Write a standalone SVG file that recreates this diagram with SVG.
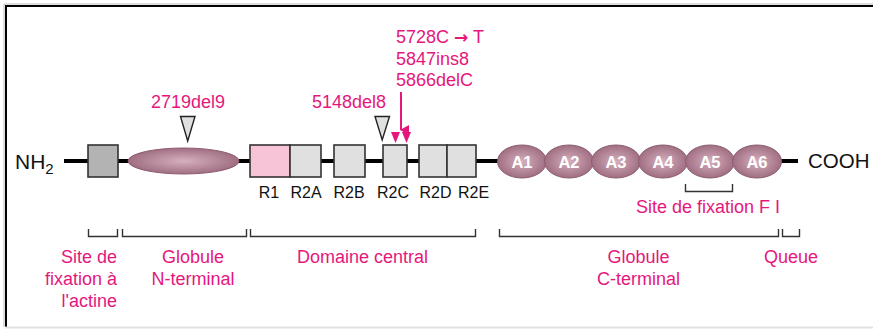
<svg xmlns="http://www.w3.org/2000/svg" width="873" height="329" viewBox="0 0 873 329">
  <defs>
    <radialGradient id="globe" cx="50%" cy="50%" r="50%">
      <stop offset="0" stop-color="#d6b0bf"/>
      <stop offset="1" stop-color="#a06e82"/>
    </radialGradient>
    <style>
      text { font-family: "Liberation Sans", Arial, sans-serif; }
      .pink { fill: #e5177d; font-size: 18px; }
      .dark { fill: #111; }
      .lbl { fill: #111; font-size: 16px; text-anchor: middle; }
      .box { stroke: #333; stroke-width: 1.6; }
      .grey { fill: #e0e0e0; }
      .glob { fill: url(#globe); stroke: #8c5d70; stroke-width: 1; }
      .alab { fill: #fff; font-size: 16.5px; font-weight: bold; text-anchor: middle; }
      .brk { fill: none; stroke: #333; stroke-width: 1.4; }
      .tri { fill: #e0e0e0; stroke: #222; stroke-width: 1.4; stroke-linejoin: miter; }
      .mut { fill: #e5177d; }
    </style>
    <marker id="ah" markerWidth="10" markerHeight="10" refX="5" refY="8" orient="auto" markerUnits="userSpaceOnUse" viewBox="0 0 10 10">
      <path d="M0,0 L10,0 L5,9 Z" fill="#e5177d"/>
    </marker>
  </defs>

  <rect x="0" y="0" width="873" height="329" fill="#fff"/>
  <!-- frame -->
  <line x1="4" y1="4" x2="873" y2="4" stroke="#bbb" stroke-width="1"/>
  <line x1="4" y1="4" x2="4" y2="327" stroke="#bbb" stroke-width="1"/>
  <line x1="5" y1="6" x2="873" y2="6" stroke="#000" stroke-width="2"/>
  <line x1="6" y1="5" x2="6" y2="327" stroke="#000" stroke-width="2"/>
  <line x1="5" y1="327.5" x2="873" y2="327.5" stroke="#e2e2e2" stroke-width="2"/>

  <!-- backbone chain and mutation pointer -->
  <g id="connectors">
    <line x1="64" y1="161" x2="798" y2="161" stroke="#000" stroke-width="4"/>
    <line x1="401" y1="92" x2="401" y2="130" stroke="#e5177d" stroke-width="2" marker-end="url(#ah)"/>
  </g>

  <text x="15" y="169" class="dark" font-size="21">NH<tspan font-size="15" dy="5">2</tspan></text>
  <text x="808" y="168" class="dark" font-size="20.5">COOH</text>

  <g id="actin-site">
    <rect x="88" y="145" width="30" height="32" fill="#b3b3b3" class="box"/>
  </g>
  <g id="n-globule">
    <ellipse cx="183.5" cy="161" rx="55.5" ry="13" class="glob"/>
  </g>

  <g id="central-domain">
    <rect x="250" y="145" width="40" height="32" fill="#f7c3d6" class="box"/>
    <rect x="290" y="145" width="31" height="32" class="box grey"/>
    <rect x="334" y="145" width="31" height="32" class="box grey"/>
    <rect x="383" y="145" width="24" height="32" class="box grey"/>
    <rect x="419" y="145" width="28" height="32" class="box grey"/>
    <rect x="447" y="145" width="29" height="32" class="box grey"/>
    <text x="269" y="198" class="lbl">R1</text>
    <text x="306" y="198" class="lbl">R2A</text>
    <text x="349" y="198" class="lbl">R2B</text>
    <text x="393" y="198" class="lbl">R2C</text>
    <text x="435.5" y="198" class="lbl">R2D</text>
    <text x="473.5" y="198" class="lbl">R2E</text>
  </g>

  <g id="c-globule">
    <ellipse cx="522" cy="161.5" rx="24.5" ry="16.5" class="glob"/>
    <ellipse cx="569" cy="161.5" rx="24.5" ry="16.5" class="glob"/>
    <ellipse cx="616" cy="161.5" rx="24.5" ry="16.5" class="glob"/>
    <ellipse cx="663" cy="161.5" rx="24.5" ry="16.5" class="glob"/>
    <ellipse cx="710" cy="161.5" rx="24.5" ry="16.5" class="glob"/>
    <ellipse cx="757" cy="161.5" rx="24.5" ry="16.5" class="glob"/>
    <text x="522" y="167.5" class="alab">A1</text>
    <text x="569" y="167.5" class="alab">A2</text>
    <text x="616" y="167.5" class="alab">A3</text>
    <text x="663" y="167.5" class="alab">A4</text>
    <text x="710" y="167.5" class="alab">A5</text>
    <text x="757" y="167.5" class="alab">A6</text>
  </g>

  <!-- mutations -->
  <g id="mut-2719del9">
    <text x="188" y="108" class="pink" text-anchor="middle">2719del9</text>
    <path d="M180.5,116.5 L195,116.5 L187.7,141 Z" class="tri"/>
  </g>
  <g id="mut-5148del8">
    <text x="349" y="108" class="pink" text-anchor="middle">5148del8</text>
    <path d="M375,116.5 L389.5,116.5 L382.2,140 Z" class="tri"/>
  </g>
  <g id="mut-r2c">
    <text x="396" y="43" class="pink">5728C <tspan font-family="DejaVu Sans, sans-serif" font-size="17" font-weight="bold">&#x2192;</tspan> T</text>
    <text x="396" y="65" class="pink">5847ins8</text>
    <text x="396" y="86" class="pink">5866delC</text>
    <path d="M391,132 L400,132 L395.5,143 Z" class="mut"/>
    <path d="M402,132 L411,132 L406.5,143 Z" class="mut"/>
  </g>

  <g id="fi-site">
    <path d="M685.5,184 V191.5 H732.5 V184" class="brk"/>
    <text x="708" y="213" class="pink" text-anchor="middle">Site de fixation F I</text>
  </g>

  <!-- region brackets -->
  <g id="region-actine">
    <path d="M88.5,229 V236.5 H117.5 V229" class="brk"/>
    <text class="pink" text-anchor="end"><tspan x="117" y="263">Site de</tspan><tspan x="117" y="285">fixation à</tspan><tspan x="117" y="307">l'actine</tspan></text>
  </g>
  <g id="region-n-globule">
    <path d="M122.5,229 V236.5 H246.5 V229" class="brk"/>
    <text class="pink" text-anchor="middle"><tspan x="193" y="263">Globule</tspan><tspan x="193" y="285">N-terminal</tspan></text>
  </g>
  <g id="region-central">
    <path d="M250.5,229 V236.5 H475.5 V229" class="brk"/>
    <text x="362.5" y="263" class="pink" text-anchor="middle">Domaine central</text>
  </g>
  <g id="region-c-globule">
    <path d="M499.5,229 V236.5 H778.5 V229" class="brk"/>
    <text class="pink" text-anchor="middle"><tspan x="638.5" y="263">Globule</tspan><tspan x="638.5" y="285">C-terminal</tspan></text>
  </g>
  <g id="region-queue">
    <path d="M782.5,229 V236.5 H799.5 V229" class="brk"/>
    <text x="791" y="263" class="pink" text-anchor="middle">Queue</text>
  </g>
</svg>
